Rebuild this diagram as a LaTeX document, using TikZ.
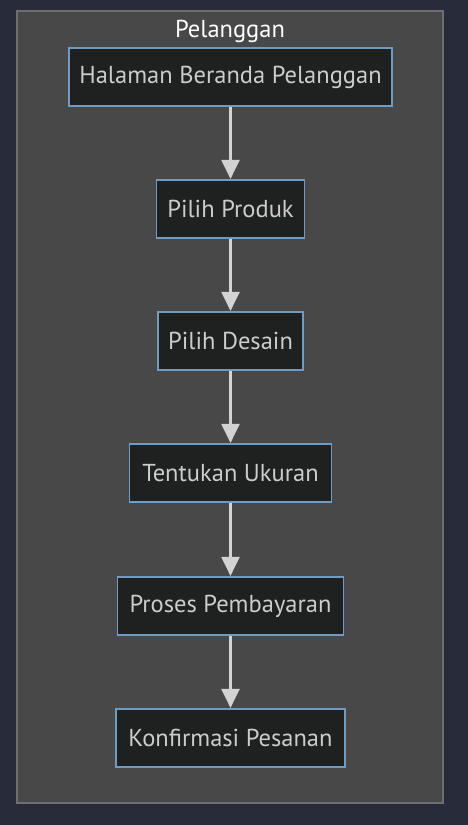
\documentclass[tikz,border=0pt]{standalone}
\usepackage{fontspec}
\setmainfont{PT Sans}
\usetikzlibrary{arrows.meta}
\definecolor{bgcol}{HTML}{282C3A}
\definecolor{clusterfill}{HTML}{484848}
\definecolor{clusterline}{HTML}{6E6E72}
\definecolor{nodefill}{HTML}{1F2020}
\definecolor{nodeline}{HTML}{6E9CC4}
\definecolor{nodetext}{HTML}{CCCCCC}
\definecolor{arrowcol}{HTML}{D3D3D3}
\tikzset{
  stepbox/.style={draw=nodeline, line width=1.2pt, fill=nodefill, text=nodetext,
    minimum height=58pt, inner sep=0pt, font=\fontsize{24.5}{29}\selectfont},
  flow/.style={draw=arrowcol, line width=2.2pt, -{Triangle[width=18pt,length=19pt]}, shorten >=0.5pt}
}
\begin{document}
\begin{tikzpicture}[x=1pt,y=-1pt]
\useasboundingbox (0,0) rectangle (468,825);
\fill[bgcol] (0,0) rectangle (468,825);
\draw[draw=clusterline, fill=clusterfill, line width=1.2pt] (17,11) rectangle (443,803);
\node[text=white, font=\fontsize{24.5}{29}\selectfont, anchor=base, inner sep=0pt] (title) at (230,37) {Pelanggan};
\node[stepbox, minimum width=323pt] (n1) at (230.5,77) {Halaman Beranda Pelanggan};
\node[stepbox, minimum width=148pt] (n2) at (230.5,209) {Pilih Produk};
\node[stepbox, minimum width=145pt] (n3) at (230.5,341) {Pilih Desain};
\node[stepbox, minimum width=202pt] (n4) at (230.5,473) {Tentukan Ukuran};
\node[stepbox, minimum width=226pt] (n5) at (230.5,606) {Proses Pembayaran};
\node[stepbox, minimum width=229pt] (n6) at (230.5,738) {Konfirmasi Pesanan};
\draw[flow] (n1.south) -- (n2.north);
\draw[flow] (n2.south) -- (n3.north);
\draw[flow] (n3.south) -- (n4.north);
\draw[flow] (n4.south) -- (n5.north);
\draw[flow] (n5.south) -- (n6.north);
\end{tikzpicture}
\end{document}
